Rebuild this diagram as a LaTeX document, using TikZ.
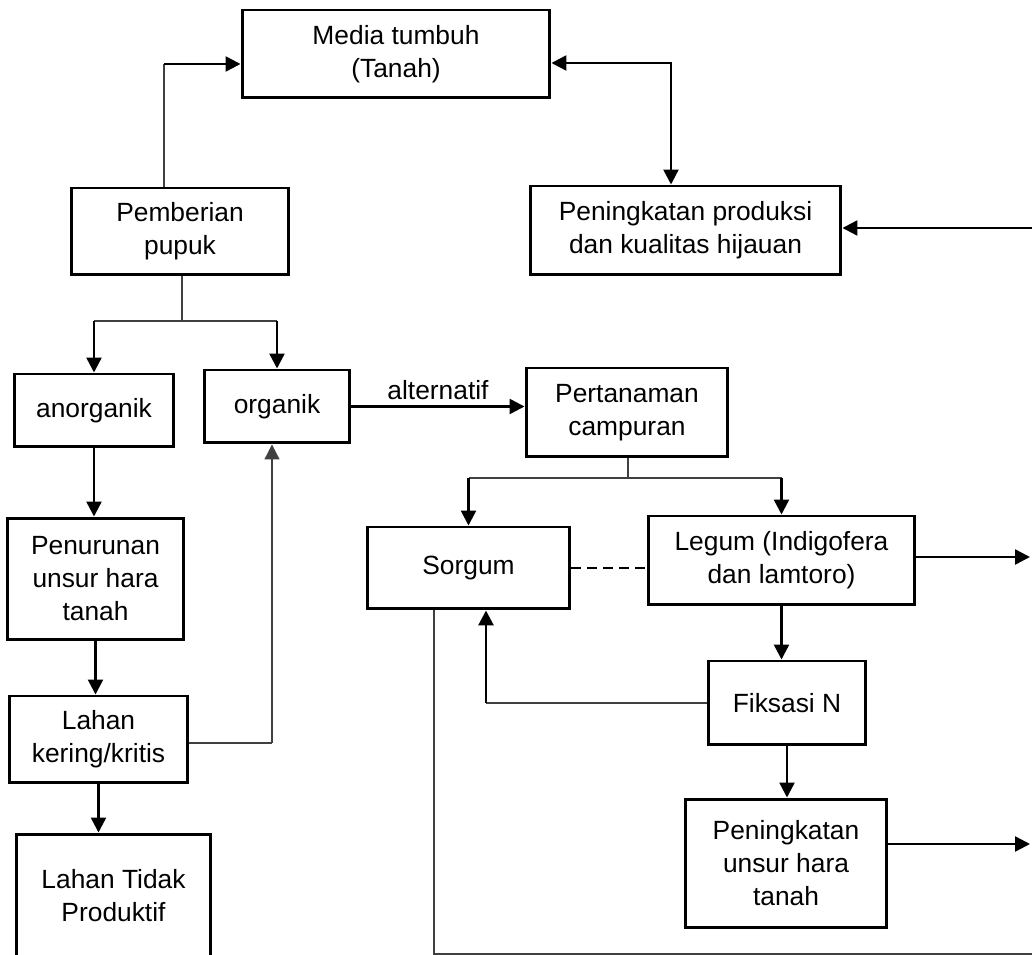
\documentclass[tikz,border=0pt]{standalone}
\usepackage{fontspec}
\setmainfont{Liberation Sans}
\usetikzlibrary{arrows.meta}

\begin{document}
\begin{tikzpicture}[x=0.02cm,y=-0.02cm,
    kotak/.style={draw,line width=1.7pt,align=center,inner sep=0pt,font=\fontsize{15}{18.8}\selectfont},
    panah/.style={-{Triangle[length=0.3cm,width=0.3cm]},line width=1.4pt},
    duapanah/.style={{Triangle[length=0.3cm,width=0.3cm]}-{Triangle[length=0.3cm,width=0.3cm]},line width=1.4pt},
    garis/.style={line width=0.7pt,draw=black!75}]
    \useasboundingbox (0,0) rectangle (1032,955);
    \clip (0,0) rectangle (1032,955);

    % kotak-kotak
    \node[kotak,minimum width=6.16cm,minimum height=1.76cm] (media) at (396,54) {Media tumbuh\\(Tanah)};
    \node[kotak,minimum width=4.36cm,minimum height=1.74cm] (pem) at (180,231.5) {Pemberian\\pupuk};
    \node[kotak,minimum width=6.22cm,minimum height=1.78cm] (prod) at (685.5,230.5) {Peningkatan produksi\\dan kualitas hijauan};
    \node[kotak,minimum width=3.2cm,minimum height=1.46cm] (anorg) at (94,410.5) {anorganik};
    \node[kotak,minimum width=2.92cm,minimum height=1.46cm] (org) at (277,406.5) {organik};
    \node[kotak,minimum width=4.04cm,minimum height=1.78cm] (tanam) at (627,412.5) {Pertanaman\\campuran};
    \node[kotak,minimum width=3.54cm,minimum height=2.44cm] (turun) at (95.5,579) {Penurunan\\unsur hara\\tanah};
    \node[kotak,minimum width=4.06cm,minimum height=1.64cm] (sorg) at (468.5,568) {Sorgum};
    \node[kotak,minimum width=5.34cm,minimum height=1.78cm] (legum) at (781.5,560.5) {Legum (Indigofera\\dan lamtoro)};
    \node[kotak,minimum width=3.16cm,minimum height=1.68cm] (fik) at (787,703) {Fiksasi N};
    \node[kotak,minimum width=3.58cm,minimum height=1.74cm] (lk) at (98.5,739.5) {Lahan\\kering/kritis};
    \node[kotak,minimum width=4.04cm,minimum height=2.58cm] (naik) at (786,863.5) {Peningkatan\\unsur hara\\tanah};
    \node[kotak,minimum width=3.9cm,minimum height=2.48cm] (tidak) at (113.5,896) {Lahan Tidak\\Produktif};

    % titik bantu
    \coordinate (sudut1) at (164,64);
    \coordinate (sudut2) at (671,63);
    \coordinate (kanan1) at (1032,228);
    \coordinate (cab1) at (182,321);
    \coordinate (cab2) at (628,478);
    \coordinate (kanan2) at (1030,557);
    \coordinate (sudut3) at (486,703);
    \coordinate (kanan3) at (1030,844);
    \coordinate (sudut4) at (272,743);
    \coordinate (bawah) at (434,954);
    \coordinate (ujung) at (1032,954);

    % pupuk ke media
    \draw[garis] (sudut1 |- pem.north) -- (sudut1);
    \draw[panah] (sudut1) -- (sudut1 -| media.west);
    \draw[duapanah] (media.east |- sudut2) -- (sudut2) -- (sudut2 |- prod.north);
    \draw[panah] (kanan1) -- (kanan1 -| prod.east);

    % cabang pupuk
    \draw[garis] (pem.south -| cab1) -- (cab1);
    \draw[garis] (cab1 -| anorg.north) -- (cab1 -| org.north);
    \draw[panah] (cab1 -| anorg.north) -- (anorg.north);
    \draw[panah] (cab1 -| org.north) -- (org.north);
    \draw[panah] (org.east) -- node[above,font=\fontsize{15}{18.8}\selectfont] {alternatif} (org.east -| tanam.west);

    % kiri
    \draw[panah] (anorg.south) -- (anorg.south |- turun.north);
    \draw[panah] (turun.south) -- (turun.south |- lk.north);
    \draw[panah] (lk.south) -- (lk.south |- tidak.north);
    \draw[garis] (lk.east |- sudut4) -- (sudut4);
    \draw[garis,-{Triangle[length=0.3cm,width=0.3cm]}] (sudut4) -- (sudut4 |- org.south);

    % cabang pertanaman
    \draw[garis] (tanam.south -| cab2) -- (cab2);
    \draw[garis] (cab2 -| sorg.north) -- (cab2 -| legum.north);
    \draw[panah] (cab2 -| sorg.north) -- (sorg.north);
    \draw[panah] (cab2 -| legum.north) -- (legum.north);
    \draw[line width=0.9pt,dash pattern=on 0.2cm off 0.12cm] (sorg.east) -- (sorg.east -| legum.west);
    \draw[panah] (legum.east |- kanan2) -- (kanan2);
    \draw[panah] (legum.south) -- (legum.south |- fik.north);
    \draw[garis] (fik.west) -- (sudut3);
    \draw[panah,line width=1.7pt] (sudut3) -- (sudut3 |- sorg.south);
    \draw[panah] (fik.south) -- (fik.south |- naik.north);
    \draw[panah] (naik.east |- kanan3) -- (kanan3);
    \draw[garis] (bawah |- sorg.south) -- (bawah) -- (ujung);
\end{tikzpicture}
\end{document}
